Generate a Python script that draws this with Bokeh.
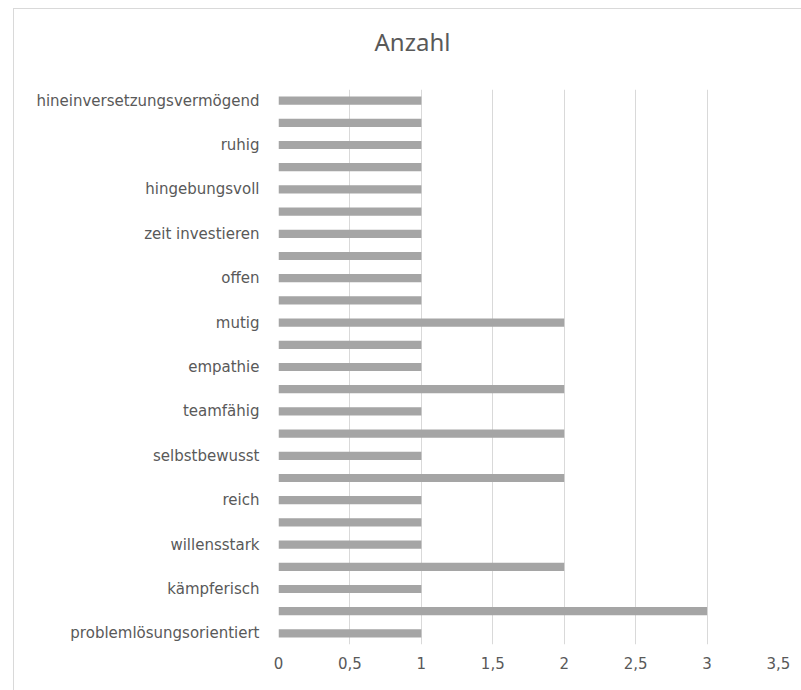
from bokeh.plotting import figure
from bokeh.models import FixedTicker, CustomJSTickFormatter, Range1d, Title, ColumnDataSource
from bokeh.embed import file_html
from bokeh.resources import INLINE

# Categories from bottom to top (only every other category is labelled in the chart)
title_text = "Anzahl"
shown_labels = ["problemlösungsorientiert", "kämpferisch", "willensstark", "reich",
                "selbstbewusst", "teamfähig", "empathie", "mutig", "offen",
                "zeit investieren", "hingebungsvoll", "ruhig", "hineinversetzungsvermögend"]
values = [1, 3, 1, 2, 1, 1, 1, 2, 1, 2, 1, 2, 1, 1, 2, 1, 1, 1, 1, 1, 1, 1, 1, 1, 1]
x_ticks = [0, 0.5, 1, 1.5, 2, 2.5, 3, 3.5]

positions = list(range(len(values)))
label_positions = positions[::2]
overrides = {pos: lab for pos, lab in zip(label_positions, shown_labels)}

src = ColumnDataSource(dict(y=positions, v=values))

p = figure(width=788, height=682, output_backend="svg", toolbar_location=None, title=None,
           x_range=Range1d(0, 3.5), y_range=Range1d(-0.5, len(values) - 0.5),
           min_border_left=264, min_border_right=24, min_border_top=80, min_border_bottom=47)
p.margin = (8, 0, 0, 13)
p.styles = {"border-left": "1px solid #d9d9d9", "border-top": "1px solid #d9d9d9"}

p.hbar(y="y", right="v", left=0, height=0.37, source=src, color="#a5a5a5", line_color=None)

# spacer between the plot frame and the chart title
p.add_layout(Title(text=" ", text_font_size="1px", standoff=29), "above")
p.add_layout(Title(text=title_text, align="left", offset=96, standoff=0,
                   text_font="Noto Sans", text_font_size="24px", text_font_style="normal",
                   text_color="#595959"), "above")

p.outline_line_color = None
p.ygrid.grid_line_color = None
p.xgrid.grid_line_color = "#d9d9d9"
p.xgrid.ticker = FixedTicker(ticks=x_ticks)

p.xaxis.ticker = FixedTicker(ticks=x_ticks)
p.xaxis.formatter = CustomJSTickFormatter(code="return tick.toString().replace('.', ',');")
p.yaxis.ticker = FixedTicker(ticks=label_positions)
p.yaxis.major_label_overrides = overrides

for ax in (p.xaxis, p.yaxis):
    ax.axis_line_color = None
    ax.major_tick_line_color = None
    ax.minor_tick_line_color = None
    ax.major_label_text_font = "DejaVu Sans"
    ax.major_label_text_font_size = "15px"
    ax.major_label_text_color = "#595959"
p.xaxis.major_label_standoff = 6
p.yaxis.major_label_standoff = 13

open("out.html", "w").write(file_html(p, INLINE))
